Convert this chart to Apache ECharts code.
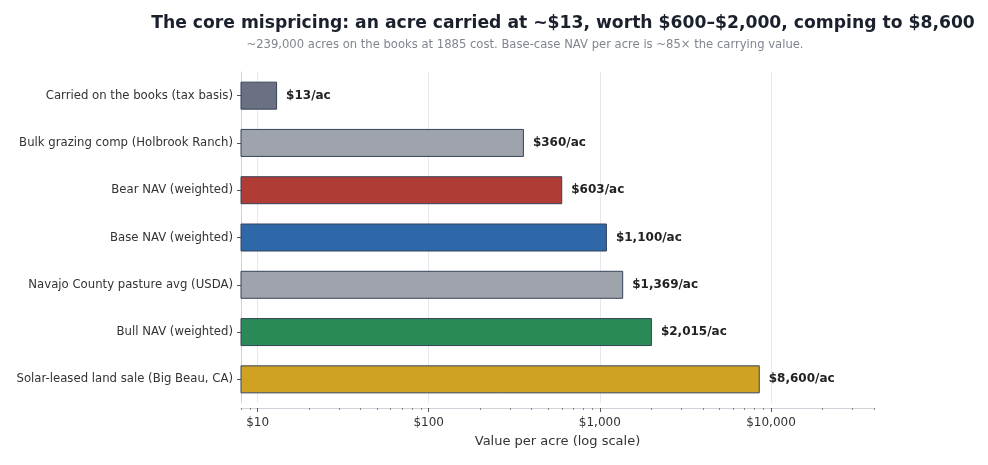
<!DOCTYPE html>
<html><head><meta charset="utf-8">
<script src="https://cdn.jsdelivr.net/npm/echarts@6/dist/echarts.min.js"></script>
<style>html,body{margin:0;background:#fff}#c{width:988px;height:465px}</style></head>
<body><div id="c"></div>
<script>
const categories = [
  "Carried on the books (tax basis)",
  "Bulk grazing comp (Holbrook Ranch)",
  "Bear NAV (weighted)",
  "Base NAV (weighted)",
  "Navajo County pasture avg (USDA)",
  "Bull NAV (weighted)",
  "Solar-leased land sale (Big Beau, CA)"
];
const values = [13, 360, 603, 1100, 1369, 2015, 8600];
const barColors = ["#6b7082", "#9fa3ab", "#b03c36", "#2f68a8", "#9fa3ab", "#2a8a57", "#d0a224"];
const majorTicks = [10, 100, 1000, 10000];
const majorTickLabels = ["$10", "$100", "$1,000", "$10,000"];
const minorTicks = [8, 9, 20, 30, 40, 50, 60, 70, 80, 90, 200, 300, 400, 500, 600, 700, 800, 900,
  2000, 3000, 4000, 5000, 6000, 7000, 8000, 9000, 20000, 30000, 40000];
const xMin = 8, xMax = 40000;

const fmt = v => "$" + v.toLocaleString("en-US") + "/ac";
const chart = echarts.init(document.getElementById("c"), null, {renderer: "canvas"});
const font = "DejaVu Sans";
chart.setOption({
  backgroundColor: "#fff",
  animation: false,
  title: [
    {text: "The core mispricing: an acre carried at ~$13, worth $600\u2013$2,000, comping to $8,600",
     left: 558, top: 10, textAlign: "center",
     textStyle: {fontFamily: font, fontSize: 17.2, fontWeight: "bold", color: "#1a202c"}},
    {text: "~239,000 acres on the books at 1885 cost. Base-case NAV per acre is ~85\u00d7 the carrying value.",
     left: 520, top: 34, textAlign: "center",
     textStyle: {fontFamily: font, fontSize: 11.6, fontWeight: "normal", color: "#808590"}}
  ],
  grid: {left: 241, right: 114, top: 72, bottom: 62, containLabel: false},
  xAxis: [
    {type: "log", logBase: 10, min: xMin, max: xMax, offset: 5,
     name: "Value per acre (log scale)", nameLocation: "middle", nameGap: 27,
     nameTextStyle: {fontFamily: font, fontSize: 13, color: "#333"},
     axisLine: {show: true, lineStyle: {color: "#d0d3da", width: 1}},
     axisTick: {show: true, length: 4, lineStyle: {color: "#555"}, customValues: majorTicks},
     axisLabel: {fontFamily: font, fontSize: 12, color: "#333", margin: 9, customValues: majorTicks,
       formatter: v => { const i = majorTicks.indexOf(Math.round(v)); return i >= 0 ? majorTickLabels[i] : ""; }},
     splitLine: {show: true, lineStyle: {color: "#e6e8ee", width: 1}},
     minorTick: {show: false}, minorSplitLine: {show: false}},
    {type: "log", logBase: 10, min: xMin, max: xMax, position: "bottom", offset: 5,
     axisLine: {show: false},
     axisTick: {show: true, length: 2, lineStyle: {color: "#888"}, customValues: minorTicks},
     axisLabel: {show: false}, splitLine: {show: false}}
  ],
  yAxis: {
    type: "category", inverse: true, data: categories,
    axisLine: {show: true, lineStyle: {color: "#d0d3da"}},
    axisTick: {show: true, length: 4, alignWithLabel: true, lineStyle: {color: "#555"}},
    axisLabel: {fontFamily: font, fontSize: 11.7, color: "#333", margin: 8},
    splitLine: {show: false}
  },
  series: [
    {type: "bar", xAxisIndex: 0, barWidth: 28,
     data: values.map((v, i) => ({value: v, itemStyle: {color: barColors[i]}})),
     itemStyle: {borderColor: "#34435a", borderWidth: 1},
     label: {show: true, position: "right", distance: 9, formatter: p => fmt(p.value),
       fontFamily: font, fontSize: 12, fontWeight: "bold", color: "#222"}}
  ]
});
</script></body></html>
